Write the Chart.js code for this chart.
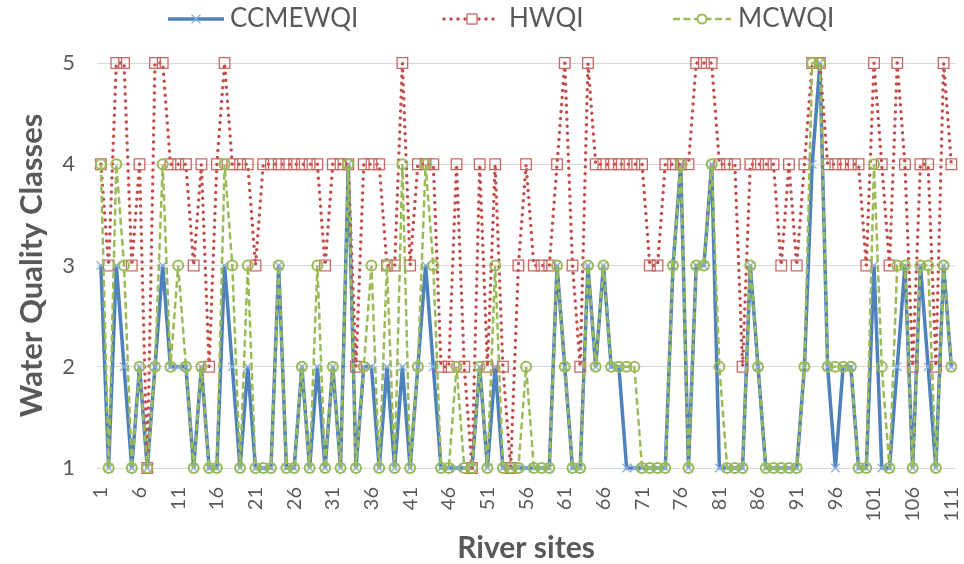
<!DOCTYPE html>
<html><head><meta charset="utf-8">
<script src="https://cdn.jsdelivr.net/npm/chart.js@4.4.1/dist/chart.umd.min.js"></script>
<style>html,body{margin:0;padding:0;background:#fff;}</style>
</head><body>
<canvas id="c" width="964" height="564" style="display:block;width:964px;height:564px"></canvas>
<script>
const sites = [1,2,3,4,5,6,7,8,9,10,11,12,13,14,15,16,17,18,19,20,21,22,23,24,25,26,27,28,29,30,31,32,33,34,35,36,37,38,39,40,41,42,43,44,45,46,47,48,49,50,51,52,53,54,55,56,57,58,59,60,61,62,63,64,65,66,67,68,69,70,71,72,73,74,75,76,77,78,79,80,81,82,83,84,85,86,87,88,89,90,91,92,93,94,95,96,97,98,99,100,101,102,103,104,105,106,107,108,109,110,111];
const shownTicks = [1,6,11,16,21,26,31,36,41,46,51,56,61,66,71,76,81,86,91,96,101,106,111];
const yTicks = [1,2,3,4,5];
const seriesNames = ["CCMEWQI","HWQI","MCWQI"];

const ccmewqi = [3,1,3,2,1,2,1,2,3,2, 2,2,1,2,1,1,3,2,1,2, 1,1,1,3,1,1,2,1,2,1, 2,1,4,1,2,2,1,2,1,2, 1,2,3,2,1,1,1,1,1,2, 1,2,1,1,1,1,1,1,1,3, 2,1,1,3,2,3,2,2,1,1, 1,1,1,1,3,4,1,3,3,4, 1,1,1,1,3,2,1,1,1,1, 1,2,4,5,2,1,2,2,1,1, 3,1,1,2,3,1,3,2,1,3, 2];
const hwqi = [4,3,5,5,3,4,1,5,5,4, 4,4,3,4,2,4,5,4,4,4, 3,4,4,4,4,4,4,4,4,3, 4,4,4,2,4,4,4,3,3,5, 3,4,4,4,2,2,4,2,1,4, 2,4,2,1,3,4,3,3,3,4, 5,3,2,5,4,4,4,4,4,4, 4,3,3,4,4,4,4,5,5,5, 4,4,4,2,4,4,4,4,3,4, 3,4,5,5,4,4,4,4,4,3, 5,4,3,5,4,2,4,4,2,5, 4];
const mcwqi = [4,1,4,3,1,2,1,2,4,2, 3,2,1,2,1,1,4,3,1,3, 1,1,1,3,1,1,2,1,3,1, 2,1,4,1,2,3,1,3,1,4, 1,2,4,3,1,1,2,1,1,2, 1,3,1,1,1,2,1,1,1,3, 2,1,1,3,2,3,2,2,2,2, 1,1,1,1,3,4,1,3,3,4, 2,1,1,1,3,2,1,1,1,1, 1,2,5,5,2,2,2,2,1,1, 4,2,1,3,3,1,3,3,1,3, 2];

const FONT = 'Lato, "DejaVu Sans Condensed", sans-serif';
const GREY = '#595959';

const legendPlugin = {
  id: 'customLegend',
  afterDraw(chart) {
    const ctx = chart.ctx;
    const y = 19;
    const items = [
      {ds: 0, x1: 168, x2: 224, tx: 230},
      {ds: 1, x1: 444, x2: 500, tx: 509},
      {ds: 2, x1: 673, x2: 731, tx: 738}
    ];
    items.forEach(it => {
      const d = chart.data.datasets[it.ds];
      ctx.save();
      ctx.strokeStyle = d.borderColor;
      ctx.lineWidth = d.borderWidth;
      ctx.setLineDash(d.borderDash || []);
      ctx.lineCap = d.borderCapStyle || 'butt';
      ctx.beginPath(); ctx.moveTo(it.x1, y); ctx.lineTo(it.x2, y); ctx.stroke();
      ctx.restore();
      const cx = (it.x1 + it.x2) / 2;
      ctx.save();
      ctx.setLineDash([]);
      ctx.strokeStyle = d.pointBorderColor;
      ctx.lineWidth = d.pointBorderWidth;
      ctx.beginPath();
      if (d.pointStyle === 'rect') {
        ctx.fillStyle = '#fff';
        ctx.fillRect(cx - 5, y - 5, 10, 10);
        ctx.strokeRect(cx - 5, y - 5, 10, 10);
      } else if (d.pointStyle === 'circle') {
        ctx.fillStyle = '#fff';
        ctx.arc(cx, y, 4.5, 0, Math.PI * 2);
        ctx.fill(); ctx.stroke();
      } else {
        const r = 4.5;
        ctx.moveTo(cx - r, y - r); ctx.lineTo(cx + r, y + r);
        ctx.moveTo(cx - r, y + r); ctx.lineTo(cx + r, y - r);
        ctx.stroke();
      }
      ctx.restore();
      ctx.save();
      ctx.fillStyle = GREY;
      ctx.font = '26px ' + FONT;
      ctx.textBaseline = 'middle';
      ctx.textAlign = 'left';
      ctx.fillText(seriesNames[it.ds], it.tx, y);
      ctx.restore();
    });
  }
};

new Chart(document.getElementById('c'), {
  type: 'line',
  data: {
    labels: sites,
    datasets: [
      {label: seriesNames[0], data: ccmewqi, borderColor: '#4F81BD', borderWidth: 3.5,
       pointStyle: 'crossRot', pointRadius: 6, pointBorderColor: '#8CAEDA', pointBorderWidth: 1.2,
       pointBackgroundColor: 'rgba(0,0,0,0)', tension: 0, order: 2, clip: false},
      {label: seriesNames[1], data: hwqi, borderColor: '#C0504D', borderWidth: 3.5,
       borderDash: [0, 7], borderCapStyle: 'round',
       pointStyle: 'rect', pointRadius: 7.5, pointBorderColor: '#CC6663', pointBorderWidth: 1.3,
       pointBackgroundColor: 'rgba(0,0,0,0)', tension: 0, order: 1, clip: false},
      {label: seriesNames[2], data: mcwqi, borderColor: '#9BBB59', borderWidth: 2.5,
       borderDash: [7, 3.5],
       pointStyle: 'circle', pointRadius: 5, pointBorderColor: '#9BBB59', pointBorderWidth: 2,
       pointBackgroundColor: 'rgba(0,0,0,0)', tension: 0, order: 0, clip: false}
    ]
  },
  options: {
    responsive: false, animation: false, devicePixelRatio: 1,
    layout: {padding: {top: 63, right: 7, left: 0, bottom: 0}},
    plugins: {legend: {display: false}, tooltip: {enabled: false}},
    scales: {
      x: {
        type: 'category', offset: true,
        grid: {display: false, drawTicks: false}, border: {display: false},
        ticks: {
          autoSkip: false, maxRotation: 90, minRotation: 90, padding: 19,
          color: GREY, font: {family: FONT, size: 20},
          callback: function (v, i) { const l = sites[i]; return shownTicks.includes(l) ? String(l) : ''; }
        },
        title: {display: true, text: 'River sites', color: GREY,
          font: {family: FONT, size: 30, weight: 'bold', lineHeight: 1}, padding: {top: 0, bottom: 1}},
        afterFit(s) { s.height = 96; s.paddingLeft = 0; s.paddingRight = 0; }
      },
      y: {
        min: 1, max: 5,
        afterBuildTicks(s) { s.ticks = yTicks.map(v => ({value: v})); },
        ticks: {stepSize: 1, padding: 22, color: GREY, font: {family: FONT, size: 22}},
        grid: {color: '#D9D9D9', lineWidth: 1, drawTicks: false}, border: {display: false},
        title: {display: true, text: 'Water Quality Classes', color: GREY,
          font: {family: FONT, size: 31, weight: 'bold', lineHeight: 1}, padding: {top: 16, bottom: 0}},
        afterFit(s) { s.width = 97; }
      }
    }
  },
  plugins: [legendPlugin]
});
</script>
</body></html>
